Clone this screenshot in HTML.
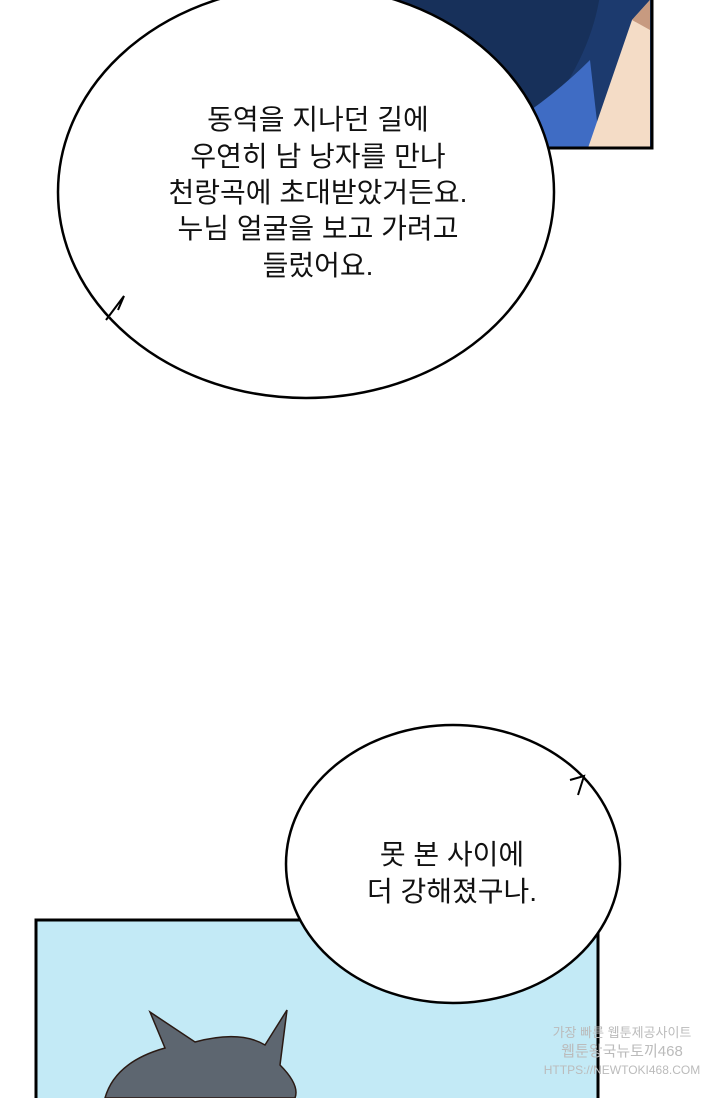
<!DOCTYPE html>
<html><head><meta charset="utf-8"><style>
html,body{margin:0;padding:0;background:#fff;width:720px;height:1098px;overflow:hidden}
svg{display:block}
text{font-family:"Liberation Sans","Noto Sans CJK KR",sans-serif;font-size:28px;fill:#111;text-anchor:middle}
</style></head><body>
<svg width="720" height="1098" viewBox="0 0 720 1098">
<rect x="380" y="-5" width="272" height="153" fill="#1c3a6e"/>
<path d="M380,-5 L600,-5 Q590,60 540,120 L540,148 L380,148Z" fill="#17305a"/>
<path d="M470,148 Q540,110 590,60 L600,148Z" fill="#3f6cc4"/>
<path d="M588,148 L632,20 L650,0 L650,148Z" fill="#f4dcc6"/>
<path d="M632,20 L650,0 L650,30Z" fill="#c79a80"/>
<rect x="380" y="-5" width="272" height="153" fill="none" stroke="#000" stroke-width="3"/>
<rect x="36" y="920" width="562" height="190" fill="#c3eaf6" stroke="#000" stroke-width="3"/>
<path d="M150,1012 L195,1042 Q240,1030 265,1045 L287,1010 L280,1065 Q300,1085 295,1098 L105,1098 Q115,1062 165,1048 Z" fill="#5d6670" stroke="#2a1a14" stroke-width="1.5"/>
<ellipse cx="306" cy="192" rx="248" ry="206" fill="#fff" stroke="#000" stroke-width="2.5"/>
<path d="M106,320 L124,296 L118,310" fill="#fff" stroke="#000" stroke-width="2"/>
<text x="318" y="129">동역을 지나던 길에</text>
<text x="318" y="166">우연히 남 낭자를 만나</text>
<text x="318" y="202">천랑곡에 초대받았거든요.</text>
<text x="318" y="238">누님 얼굴을 보고 가려고</text>
<text x="318" y="275">들렀어요.</text>
<ellipse cx="453" cy="864" rx="167" ry="139" fill="#fff" stroke="#000" stroke-width="2.5"/>
<path d="M570,780 L584,776 L578,795" fill="#fff" stroke="#000" stroke-width="2"/>
<text x="452" y="864">못 본 사이에</text>
<text x="452" y="901">더 강해졌구나.</text>
<text x="622" y="1037" style="font-size:13px;fill:#bbb">가장 빠른 웹툰제공사이트</text>
<text x="622" y="1056" style="font-size:15px;fill:#bbb">웹툰왕국뉴토끼468</text>
<text x="622" y="1074" style="font-size:12px;fill:#bbb">HTTPS://NEWTOKI468.COM</text>
</svg>
</body></html>
